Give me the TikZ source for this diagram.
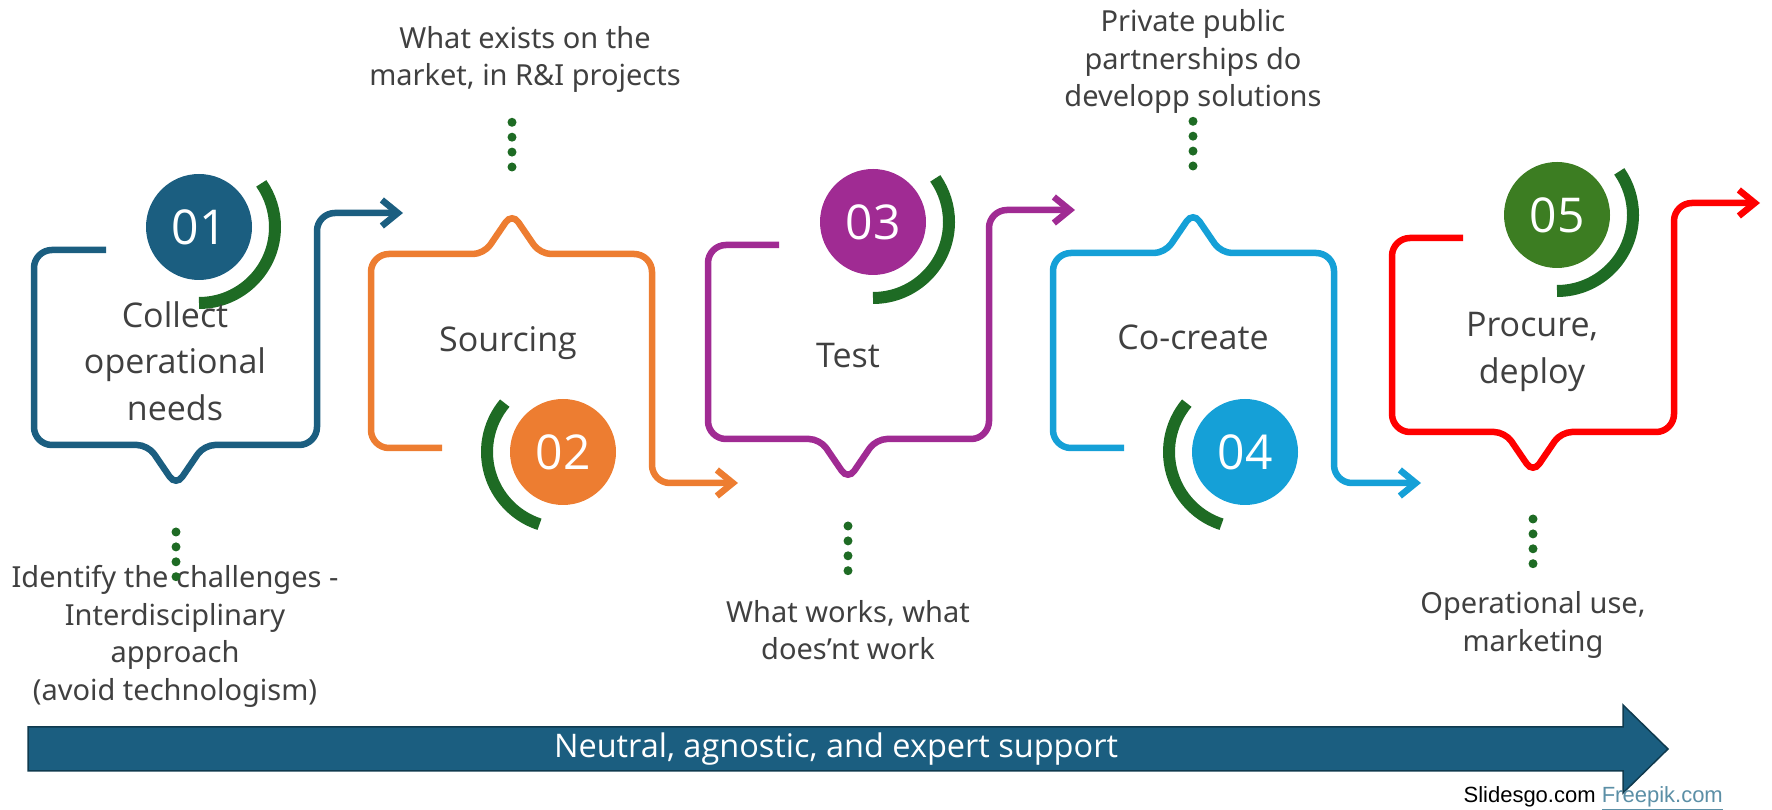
\documentclass[tikz,border=0pt]{standalone}
\usepackage{fontspec}
\setmainfont{Open Sans}
\newfontfamily\notefont{Noto Sans}
\newfontfamily\creditfont{Liberation Sans}
\usetikzlibrary{arrows.meta}
\definecolor{stepblue}{HTML}{1B5E80}
\definecolor{steporange}{HTML}{ED7D31}
\definecolor{steppurple}{HTML}{A02B93}
\definecolor{stepcyan}{HTML}{15A0D7}
\definecolor{stepred}{HTML}{FF0000}
\definecolor{stepgreen}{HTML}{3C7D22}
\definecolor{ringgreen}{HTML}{1E6B24}
\definecolor{textgray}{HTML}{404040}
\definecolor{barline}{HTML}{0F3A4E}
\definecolor{linkblue}{HTML}{5B8FA6}

\begin{document}
\begin{tikzpicture}[x=1pt,y=1pt,
	outline/.style={line width=6.5pt,rounded corners=18pt,-{Straight Barb[length=16pt,width=26pt]}},
	tipround/.style={rounded corners=11pt},
	num/.style={circle,minimum size=106pt,inner sep=0pt,text=white,font=\fontsize{48}{48}\selectfont},
	ring/.style={draw=ringgreen,line width=12pt},
	steptext/.style={align=center,inner sep=0pt,text=textgray,font=\fontsize{34}{46.5}\selectfont},
	note/.style={align=center,inner sep=0pt,text=textgray,font=\notefont\fontsize{29}{37.5}\selectfont},
	dots/.style={draw=ringgreen,line width=9pt,line cap=round,dash pattern=on 0pt off 14.9pt},
	bar/.style={fill=stepblue,draw=barline,line width=1.5pt},
	credit/.style={inner sep=0pt,font=\creditfont\fontsize{22}{22}\selectfont}]
	\useasboundingbox (0,0) rectangle (1772,810);

	\draw[outline,draw=stepblue] (106,560) -- (34,560) -- (34,365) [tipround] -- (148,365) -- (176,324) coordinate (t1) -- (204,365) [rounded corners=18pt] -- (317,365) -- (317,597) -- (403,597);
	\draw[outline,draw=steporange] (442,362) -- (371,362) -- (371,556) [tipround] -- (484,556) -- (512,597) coordinate (t2) -- (540,556) [rounded corners=18pt] -- (652,556) -- (652,327) -- (738,327);
	\draw[outline,draw=steppurple] (779,565) -- (708,565) -- (708,371) [tipround] -- (820,371) -- (848,330) coordinate (t3) -- (876,371) [rounded corners=18pt] -- (989,371) -- (989,600) -- (1075,600);
	\draw[outline,draw=stepcyan] (1124,362) -- (1053,362) -- (1053,557) [tipround] -- (1165,557) -- (1193,598) coordinate (t4) -- (1221,557) [rounded corners=18pt] -- (1334,557) -- (1334,327) -- (1421,327);
	\draw[outline,draw=stepred] (1463,572) -- (1392,572) -- (1392,378) [tipround] -- (1505,378) -- (1533,337) coordinate (t5) -- (1561,378) [rounded corners=18pt] -- (1674,378) -- (1674,607) -- (1760,607);

	\node[num,fill=stepblue] (c1) at (199,583) {01};
	\node[num,fill=steporange] (c2) at (563,358) {02};
	\node[num,fill=steppurple] (c3) at (873,588) {03};
	\node[num,fill=stepcyan] (c4) at (1245,358) {04};
	\node[num,fill=stepgreen] (c5) at (1557,595) {05};
	\draw[ring] (c1.center) ++(-90:76) arc[start angle=-90,end angle=35,radius=76];
	\draw[ring] (c2.center) ++(140:76) arc[start angle=140,end angle=252,radius=76];
	\draw[ring] (c3.center) ++(-90:76) arc[start angle=-90,end angle=35,radius=76];
	\draw[ring] (c4.center) ++(140:76) arc[start angle=140,end angle=252,radius=76];
	\draw[ring] (c5.center) ++(-90:76) arc[start angle=-90,end angle=35,radius=76];

	\node[steptext] (s1) at (175,449) {Collect\\operational\\needs};
	\node[steptext,anchor=base] (s2) at (508,458) {Sourcing};
	\node[steptext,anchor=base] (s3) at (848,442) {Test};
	\node[steptext,anchor=base] (s4) at (1193,460) {Co-create};
	\node[steptext] (s5) at (1532,458) {Procure,\\deploy};

	\node[note] (n1) at (175,173.5) {Identify the challenges -\\Interdisciplinary\\approach\\(avoid technologism)};
	\node[note] (n2) at (525,750.5) {What exists on the\\market, in R\&I projects};
	\node[note] (n3) at (848,180) {What works, what\\does’nt work};
	\node[note] (n4) at (1193,748.5) {Private public\\partnerships do\\developp solutions};
	\node[note] (n5) at (1533,185) {Operational use,\\marketing};

	\draw[dots] ([yshift=-46pt]t1) -- ++(0,-45);
	\draw[dots] ([yshift=46pt]t2) -- ++(0,45);
	\draw[dots] ([yshift=-46pt]t3) -- ++(0,-45);
	\draw[dots] ([yshift=46pt]t4) -- ++(0,45);
	\draw[dots] ([yshift=-46pt]t5) -- ++(0,-45);

	\draw[bar] (28,39) -- (1623,39) -- (1623,17) -- (1668,61) -- (1623,105) -- (1623,83) -- (28,83) -- cycle;
	\node[text=white,font=\fontsize{32.5}{32.5}\selectfont] (support) at (836,61) {Neutral, agnostic, and expert support};
	\node[credit,anchor=base east] (credit) at (1723,7) {Slidesgo.com \textcolor{linkblue}{\underline{Freepik.com}}};
\end{tikzpicture}
\end{document}
